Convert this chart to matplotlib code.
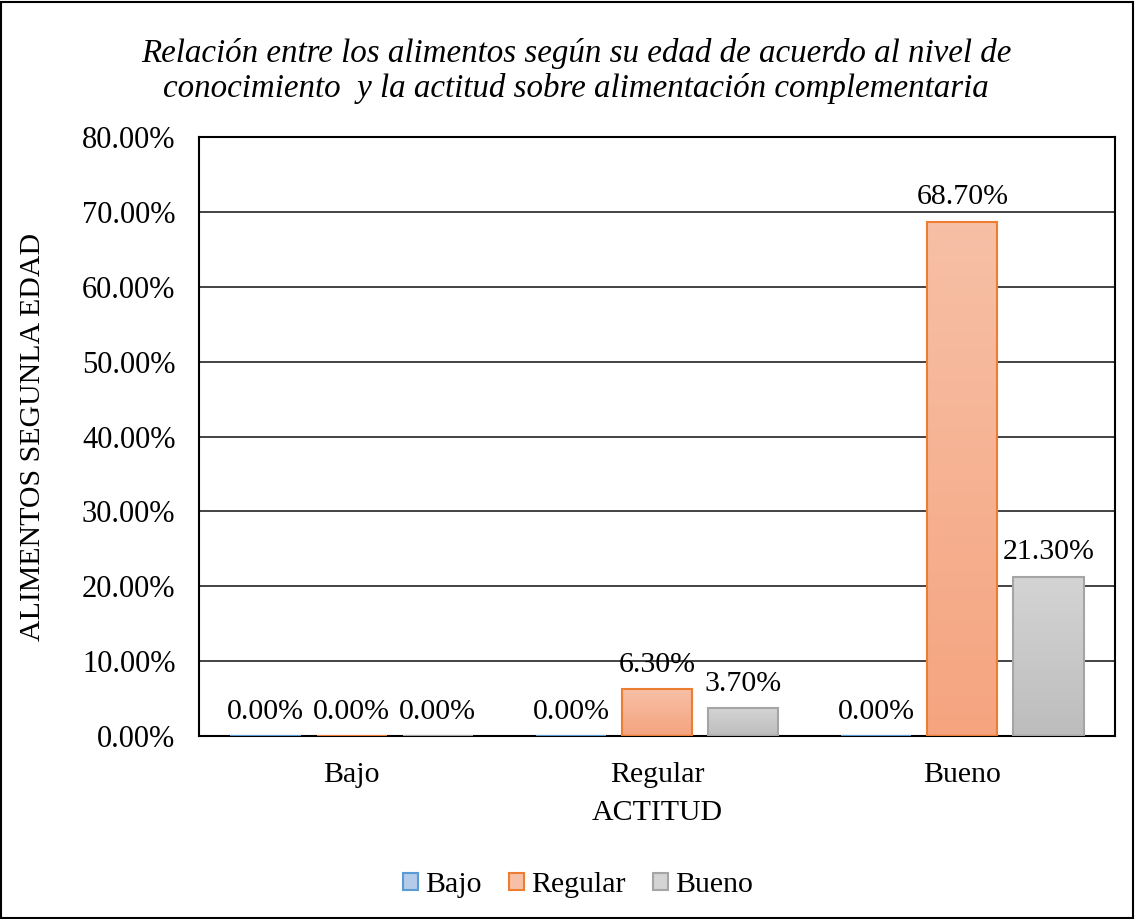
import matplotlib.pyplot as plt
from matplotlib.colors import LinearSegmentedColormap
from matplotlib.patches import Rectangle
import numpy as np

plt.rcParams['font.family'] = ['Liberation Serif', 'DejaVu Serif']

categories = ['Bajo', 'Regular', 'Bueno']
series = ['Bajo', 'Regular', 'Bueno']
values = {
    'Bajo': [0.0, 0.0, 0.0],
    'Regular': [0.0, 6.3, 68.7],
    'Bueno': [0.0, 3.7, 21.3],
}
yticks = [0, 10, 20, 30, 40, 50, 60, 70, 80]

# top colour, bottom colour, edge colour
styles = {
    'Bajo': ('#b4cbe9', '#9dbde6', '#5b9bd5'),
    'Regular': ('#f7c0a6', '#f5a47f', '#ed7d31'),
    'Bueno': ('#d4d4d4', '#bdbdbd', '#a5a5a5'),
}

fs = 21.5

fig = plt.figure(figsize=(11.35, 9.19), dpi=100)
ax = fig.add_axes([199/1135, 1 - 736/919, 916/1135, 599/919])

x = np.arange(len(categories))
width = 0.23
step = 0.282

for i, name in enumerate(series):
    top, bot, edge = styles[name]
    cmap = LinearSegmentedColormap.from_list(name, [bot, top])
    xs = x + (i - 1) * step
    bars = ax.bar(xs, values[name], width, color='none', edgecolor=edge,
                  linewidth=1.5, label=name, zorder=3)
    for b, v in zip(bars, values[name]):
        if v > 0:
            x0, y0 = b.get_x(), b.get_y()
            img = ax.imshow(np.linspace(0, 1, 100).reshape(-1, 1), cmap=cmap,
                            origin='lower', aspect='auto',
                            extent=[x0, x0 + b.get_width(), y0, y0 + b.get_height()],
                            zorder=2.5)
            img.set_clip_path(b)
        ax.annotate(f'{v:.2f}%', (b.get_x() + b.get_width() / 2, v),
                    xytext=(0, 8), textcoords='offset points',
                    ha='center', va='bottom', fontsize=fs, zorder=4)

ax.set_xlim(-0.5, 2.5)
ax.set_ylim(0, 80)
ax.set_yticks(yticks)
ax.set_yticklabels([f'{t:.2f}%' for t in yticks], fontsize=22)
ax.set_xticks(x)
ax.set_xticklabels(categories, fontsize=fs)
ax.tick_params(axis='y', length=0, pad=17)
ax.tick_params(axis='x', length=0, pad=19)
ax.yaxis.grid(True, color='#222222', linewidth=1.2, zorder=0)
ax.set_axisbelow(True)
for s in ax.spines.values():
    s.set_linewidth(1.5)
    s.set_color('black')

ax.set_xlabel('ACTITUD', fontsize=fs)
ax.xaxis.label.set_va('center')
ax.xaxis.set_label_coords(0.5, (736 - 813) / 599)
ax.set_ylabel('ALIMENTOS SEGUNLA EDAD', fontsize=fs)
ax.yaxis.label.set_va('center')
ax.yaxis.set_label_coords((33 - 199) / 916, 0.5)

fig.text(576/1135, 1 - 71/919,
         'Relación entre los alimentos según su edad de acuerdo al nivel de\n'
         'conocimiento  y la actitud sobre alimentación complementaria',
         ha='center', va='center', fontsize=23.8, style='italic', linespacing=1.2)

handles = [Rectangle((0, 0), 1, 1, facecolor=styles[n][0], edgecolor=styles[n][2], linewidth=1.5)
           for n in series]
fig.legend(handles, series, loc='center', bbox_to_anchor=(578/1135, 1 - 885/919), ncol=3,
           frameon=False, fontsize=fs, handlelength=0.5, handleheight=0.5,
           handletextpad=0.25, columnspacing=0.9)

fig.patches.append(Rectangle((0.001, 0.001), 0.997, 0.997, transform=fig.transFigure,
                             fill=False, edgecolor='black', linewidth=1.5))

fig.savefig('out.png', dpi=100)
